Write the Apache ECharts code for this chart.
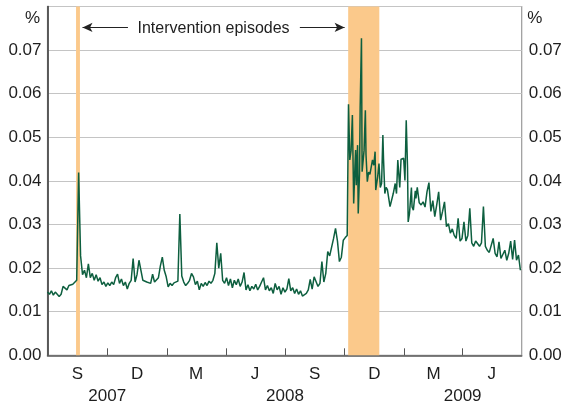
<!DOCTYPE html>
<html>
<head>
<meta charset="utf-8">
<script src="https://cdn.jsdelivr.net/npm/echarts@6/dist/echarts.min.js"></script>
<style>
html,body{margin:0;padding:0;background:#fff;}
#chart{width:564px;height:402px;}
</style>
</head>
<body>
<div id="chart"></div>
<script>
// Day offsets are counted from 1 July 2007.
var startDate = '2007-07-01';

// Jul 2007 - early Oct 2008: one reading every 3 days from day 0
var calmStep = 3;
var calmValues = [
0.0145,0.0140,0.0148,0.0138,0.0145,0.0142,0.0135,0.0140,0.0158,0.0162,
0.0150,0.0160,0.0158,0.0163,0.0165,0.0172,0.0419,0.0228,0.0185,0.0195,
0.0178,0.0210,0.0178,0.0188,0.0172,0.0185,0.0170,0.0178,0.0162,0.0168,
0.0158,0.0166,0.0160,0.0168,0.0162,0.0178,0.0186,0.0165,0.0175,0.0160,
0.0168,0.0152,0.0165,0.0172,0.0222,0.0168,0.0185,0.0218,0.0222,0.0172,
0.0176,0.0168,0.0172,0.0165,0.0186,0.0168,0.0172,0.0178,0.0205,0.0225,
0.0195,0.0180,0.0157,0.0165,0.0160,0.0166,0.0162,0.0170,0.0324,0.0182,
0.0168,0.0160,0.0165,0.0172,0.0188,0.0180,0.0162,0.0170,0.0150,0.0165,
0.0158,0.0167,0.0160,0.0170,0.0165,0.0172,0.0188,0.0258,0.0200,0.0234,
0.0172,0.0165,0.0178,0.0160,0.0175,0.0155,0.0172,0.0162,0.0175,0.0158,
0.0168,0.0190,0.0150,0.0162,0.0148,0.0158,0.0152,0.0163,0.0150,0.0158,
0.0168,0.0178,0.0150,0.0160,0.0148,0.0155,0.0142,0.0165,0.0150,0.0158,
0.0140,0.0155,0.0145,0.0152,0.0176,0.0148,0.0155,0.0142,0.0152,0.0140,
0.0148,0.0136,0.0132,0.0142,0.0150,0.0174,0.0152,0.0180,0.0182,0.0158,
0.0165,0.0215,0.0168,0.0188,0.0238,0.0228,0.0225,0.0268,0.0291,0.0262,
0.0215,0.0225,0.0264,0.0270,0.0275
];

// Oct 2008 - Jan 2009 (volatile period), irregular readings
var crisisDays = [
464,466,468,470,471,472,474,475,476,478,479,481,482,484,485,488,490,491,493,495,
497,500,501,503,505,506,509,511,513,515,517,518,520,522,524,527,528,531,533,536,
538,540,543,545,547,549,551,553,555,556,558,561,562,564,567,568,570
];
var crisisValues = [
0.0576,0.0448,0.0470,0.0551,0.0448,0.0348,0.0436,0.0471,0.0390,0.0482,
0.0325,0.0418,0.0570,0.0727,0.0421,0.0470,0.0562,0.0460,0.0398,0.0420,
0.0415,0.0412,0.0448,0.0436,0.0467,0.0379,0.0410,0.0440,0.0385,0.0394,
0.0505,0.0450,0.0371,0.0385,0.0380,0.0382,0.0341,0.0338,0.0371,0.0394,
0.0371,0.0448,0.0385,0.0450,0.0450,0.0452,0.0401,0.0539,0.0430,0.0306,
0.0325,0.0385,0.0340,0.0333,0.0377,0.0360,0.0385
];

// Feb 2009 - Jun 2009: one reading every 3 days from day 573
var tailStart = 573;
var tailStep = 3;
var tailValues = [
0.0350,0.0345,0.0352,0.0340,0.0375,0.0396,0.0330,0.0355,0.0318,0.0345,
0.0375,0.0310,0.0330,0.0352,0.0295,0.0302,0.0280,0.0290,0.0275,0.0268,
0.0314,0.0262,0.0268,0.0306,0.0262,0.0275,0.0337,0.0258,0.0250,0.0262,
0.0266,0.0250,0.0258,0.0341,0.0250,0.0241,0.0236,0.0232,0.0268,0.0234,
0.0226,0.0260,0.0222,0.0218,0.0241,0.0218,0.0234,0.0262,0.0220,0.0264,
0.0218,0.0230,0.0195
];

// Intervention episodes (day offsets)
var bandStarts = [44, 463.5];
var bandEnds = [50, 511.5];

// Axis labels
var quarterTickDays = [92, 184, 275, 366, 458, 550, 640];
var quarterLabelDays = [46, 138, 229, 320, 412, 504, 595, 685];
var quarterLabels = ['S', 'D', 'M', 'J', 'S', 'D', 'M', 'J'];
var yearLabelDays = [92, 366, 640];
var yearLabels = ['2007', '2008', '2009'];
var xMaxDay = 731;

var annotationText = 'Intervention episodes';
var arrowLevel = 0.0752;
var leftArrowDays = [124, 54];
var rightArrowDays = [389, 458];
var annotationDay = 256;

// ---- build ----
var seriesData = [];
calmValues.forEach(function (v, i) { seriesData.push([i * calmStep, v]); });
crisisDays.forEach(function (d, i) { seriesData.push([d, crisisValues[i]]); });
tailValues.forEach(function (v, i) { seriesData.push([tailStart + i * tailStep, v]); });

var qMap = {};
quarterLabelDays.forEach(function (d, i) { qMap[d] = quarterLabels[i]; });
var yMap = {};
yearLabelDays.forEach(function (d, i) { yMap[d] = yearLabels[i]; });

var bands = bandStarts.map(function (s, i) {
  return [{ xAxis: s }, { xAxis: bandEnds[i] }];
});

var FONT = 'Liberation Sans, Arial, sans-serif';
var TXT = '#1e1e1e';
var AX = '#555555';
var TICKFS = 17;

var chart = echarts.init(document.getElementById('chart'), null, { renderer: 'canvas' });
var option = {
  animation: false,
  backgroundColor: '#ffffff',
  grid: {
    left: 47.5, right: 42.3, top: 6.5, bottom: 46.7,
    containLabel: false, outerBoundsMode: 'none',
    show: true, borderColor: '#9a9a9a', borderWidth: 1.2, backgroundColor: 'transparent'
  },
  xAxis: [
    {
      type: 'value', min: 0, max: xMaxDay, position: 'bottom',
      axisLine: { show: true, onZero: false, lineStyle: { color: AX, width: 1.5 } },
      axisTick: { show: true, inside: true, length: 7, customValues: quarterTickDays, lineStyle: { color: AX, width: 1 } },
      axisLabel: {
        show: true, customValues: quarterLabelDays, margin: 11,
        fontFamily: FONT, fontSize: TICKFS, color: TXT,
        formatter: function (v) { return qMap[v] || ''; }
      },
      splitLine: { show: false }
    },
    {
      type: 'value', min: 0, max: xMaxDay, position: 'bottom', gridIndex: 0,
      axisLine: { show: false }, axisTick: { show: false },
      axisLabel: {
        show: true, customValues: yearLabelDays, margin: 33,
        fontFamily: FONT, fontSize: TICKFS, color: TXT,
        formatter: function (v) { return yMap[v] || ''; }
      },
      splitLine: { show: false }
    }
  ],
  yAxis: [
    {
      type: 'value', min: 0, max: 0.08, interval: 0.01, position: 'left',
      axisLine: { show: true, lineStyle: { color: AX, width: 1.5 } },
      axisTick: { show: false },
      axisLabel: { margin: 6, showMaxLabel: false, fontFamily: FONT, fontSize: TICKFS, color: TXT,
        formatter: function (v) { return v.toFixed(2); } },
      splitLine: { show: true, lineStyle: { color: '#c4c4c4', width: 1.2 } }
    },
    {
      type: 'value', min: 0, max: 0.08, interval: 0.01, position: 'right',
      axisLine: { show: true, lineStyle: { color: AX, width: 1.5 } },
      axisTick: { show: false },
      axisLabel: { margin: 7, showMaxLabel: false, fontFamily: FONT, fontSize: TICKFS, color: TXT,
        formatter: function (v) { return v.toFixed(2); } },
      splitLine: { show: false }
    }
  ],
  series: [
    {
      type: 'line', xAxisIndex: 0, yAxisIndex: 0,
      data: seriesData, showSymbol: false, symbol: 'none',
      lineStyle: { color: '#0d5f3f', width: 1.5 },
      z: 5,
      markArea: { silent: true, itemStyle: { color: '#fbc98b', opacity: 1 }, data: bands }
    },
    {
      type: 'line', xAxisIndex: 0, yAxisIndex: 0, data: [], silent: true,
      markLine: {
        silent: true, animation: false,
        symbol: ['none', 'arrow'], symbolSize: [7, 10],
        lineStyle: { color: '#222222', width: 1.2, type: 'solid' },
        label: { show: false },
        data: [
          [{ coord: [leftArrowDays[0], arrowLevel] }, { coord: [leftArrowDays[1], arrowLevel] }],
          [{ coord: [rightArrowDays[0], arrowLevel] }, { coord: [rightArrowDays[1], arrowLevel] }]
        ]
      }
    }
  ]
};
chart.setOption(option);

var p = chart.convertToPixel({ xAxisIndex: 0, yAxisIndex: 0 }, [annotationDay, arrowLevel]);
var pTop = chart.convertToPixel({ xAxisIndex: 0, yAxisIndex: 0 }, [0, 0.08]);
var pRight = chart.convertToPixel({ xAxisIndex: 0, yAxisIndex: 0 }, [xMaxDay, 0.08]);
chart.setOption({
  graphic: [
    { type: 'text', x: p[0], y: p[1] + 1, style: { text: annotationText, font: '16px ' + FONT, fill: TXT, align: 'center', verticalAlign: 'middle' } },
    { type: 'text', x: pTop[0] - 15, y: pTop[1] + 11.5, style: { text: '%', font: TICKFS + 'px ' + FONT, fill: TXT, align: 'center', verticalAlign: 'middle' } },
    { type: 'text', x: pRight[0] + 13, y: pRight[1] + 11.5, style: { text: '%', font: TICKFS + 'px ' + FONT, fill: TXT, align: 'center', verticalAlign: 'middle' } }
  ]
});
</script>
</body>
</html>
